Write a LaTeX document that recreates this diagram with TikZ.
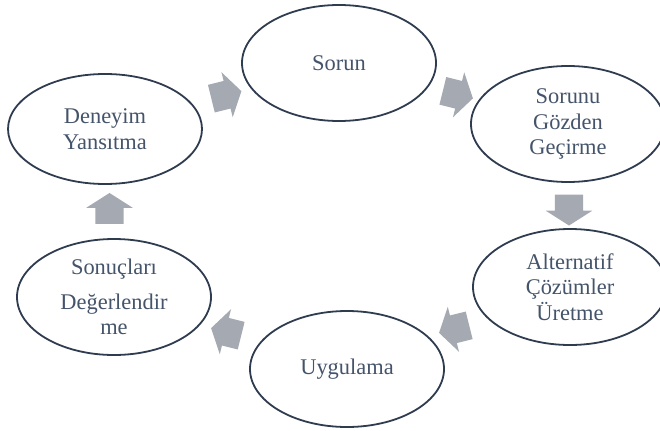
\documentclass[tikz,border=0pt]{standalone}
\usepackage{fontspec}
\setmainfont{Liberation Serif}
\usetikzlibrary{shapes.geometric, shapes.arrows, calc}
\definecolor{textblue}{RGB}{68,84,106}
\definecolor{rimblue}{RGB}{47,60,80}
\definecolor{arrowgray}{RGB}{165,169,178}
\tikzset{
        stage/.style={ellipse, draw=rimblue, line width=1.8bp, fill=white, text=textblue, align=center,
          inner sep=0pt, minimum width=194bp, minimum height=116bp, font=\fontsize{22.5}{25.5}\selectfont},
        flow/.style={single arrow, fill=arrowgray, draw=none, inner xsep=0pt, inner ysep=14bp,
          minimum height=31bp, minimum width=46bp, single arrow head extend=9bp, single arrow tip angle=115}
          }

\begin{document}
\begin{tikzpicture}
        [x=1bp, y=1bp]
        \useasboundingbox (0,0) rectangle (660,430);
        % the six stages
        \node[stage] (sorun) at (339,367) {Sorun};
        \node[stage] (gozden) at (568,306) {Sorunu\\Gözden\\Geçirme};
        \node[stage] (alternatif) at (570,143) {Alternatif\\Çözümler\\Üretme};
        \node[stage] (uygulama) at (347,61) {Uygulama};
        \node[stage] (sonuc) at (114,133) {Sonuçları\\[9bp]Değerlendir\\me};
        \node[stage, minimum height=110bp] (deneyim) at (105,301) {Deneyim\\Yansıtma};
        % block arrows between them
        \node[flow, rotate=14] (a1) at ($(deneyim)!0.5!(sorun)$) {};
        \node[flow, rotate=-14] (a2) at ($(sorun)!0.5!(gozden)$) {};
        \node[flow, rotate=-90] (a3) at ($(gozden)!0.5!(alternatif)$) {};
        \node[flow, rotate=194] (a4) at ($(alternatif)!0.5!(uygulama)$) {};
        \node[flow, rotate=166] (a5) at ($(uygulama)!0.5!(sonuc)$) {};
        \node[flow, rotate=90] (a6) at ($(sonuc)!0.5!(deneyim)$) {};
\end{tikzpicture}
\end{document}
